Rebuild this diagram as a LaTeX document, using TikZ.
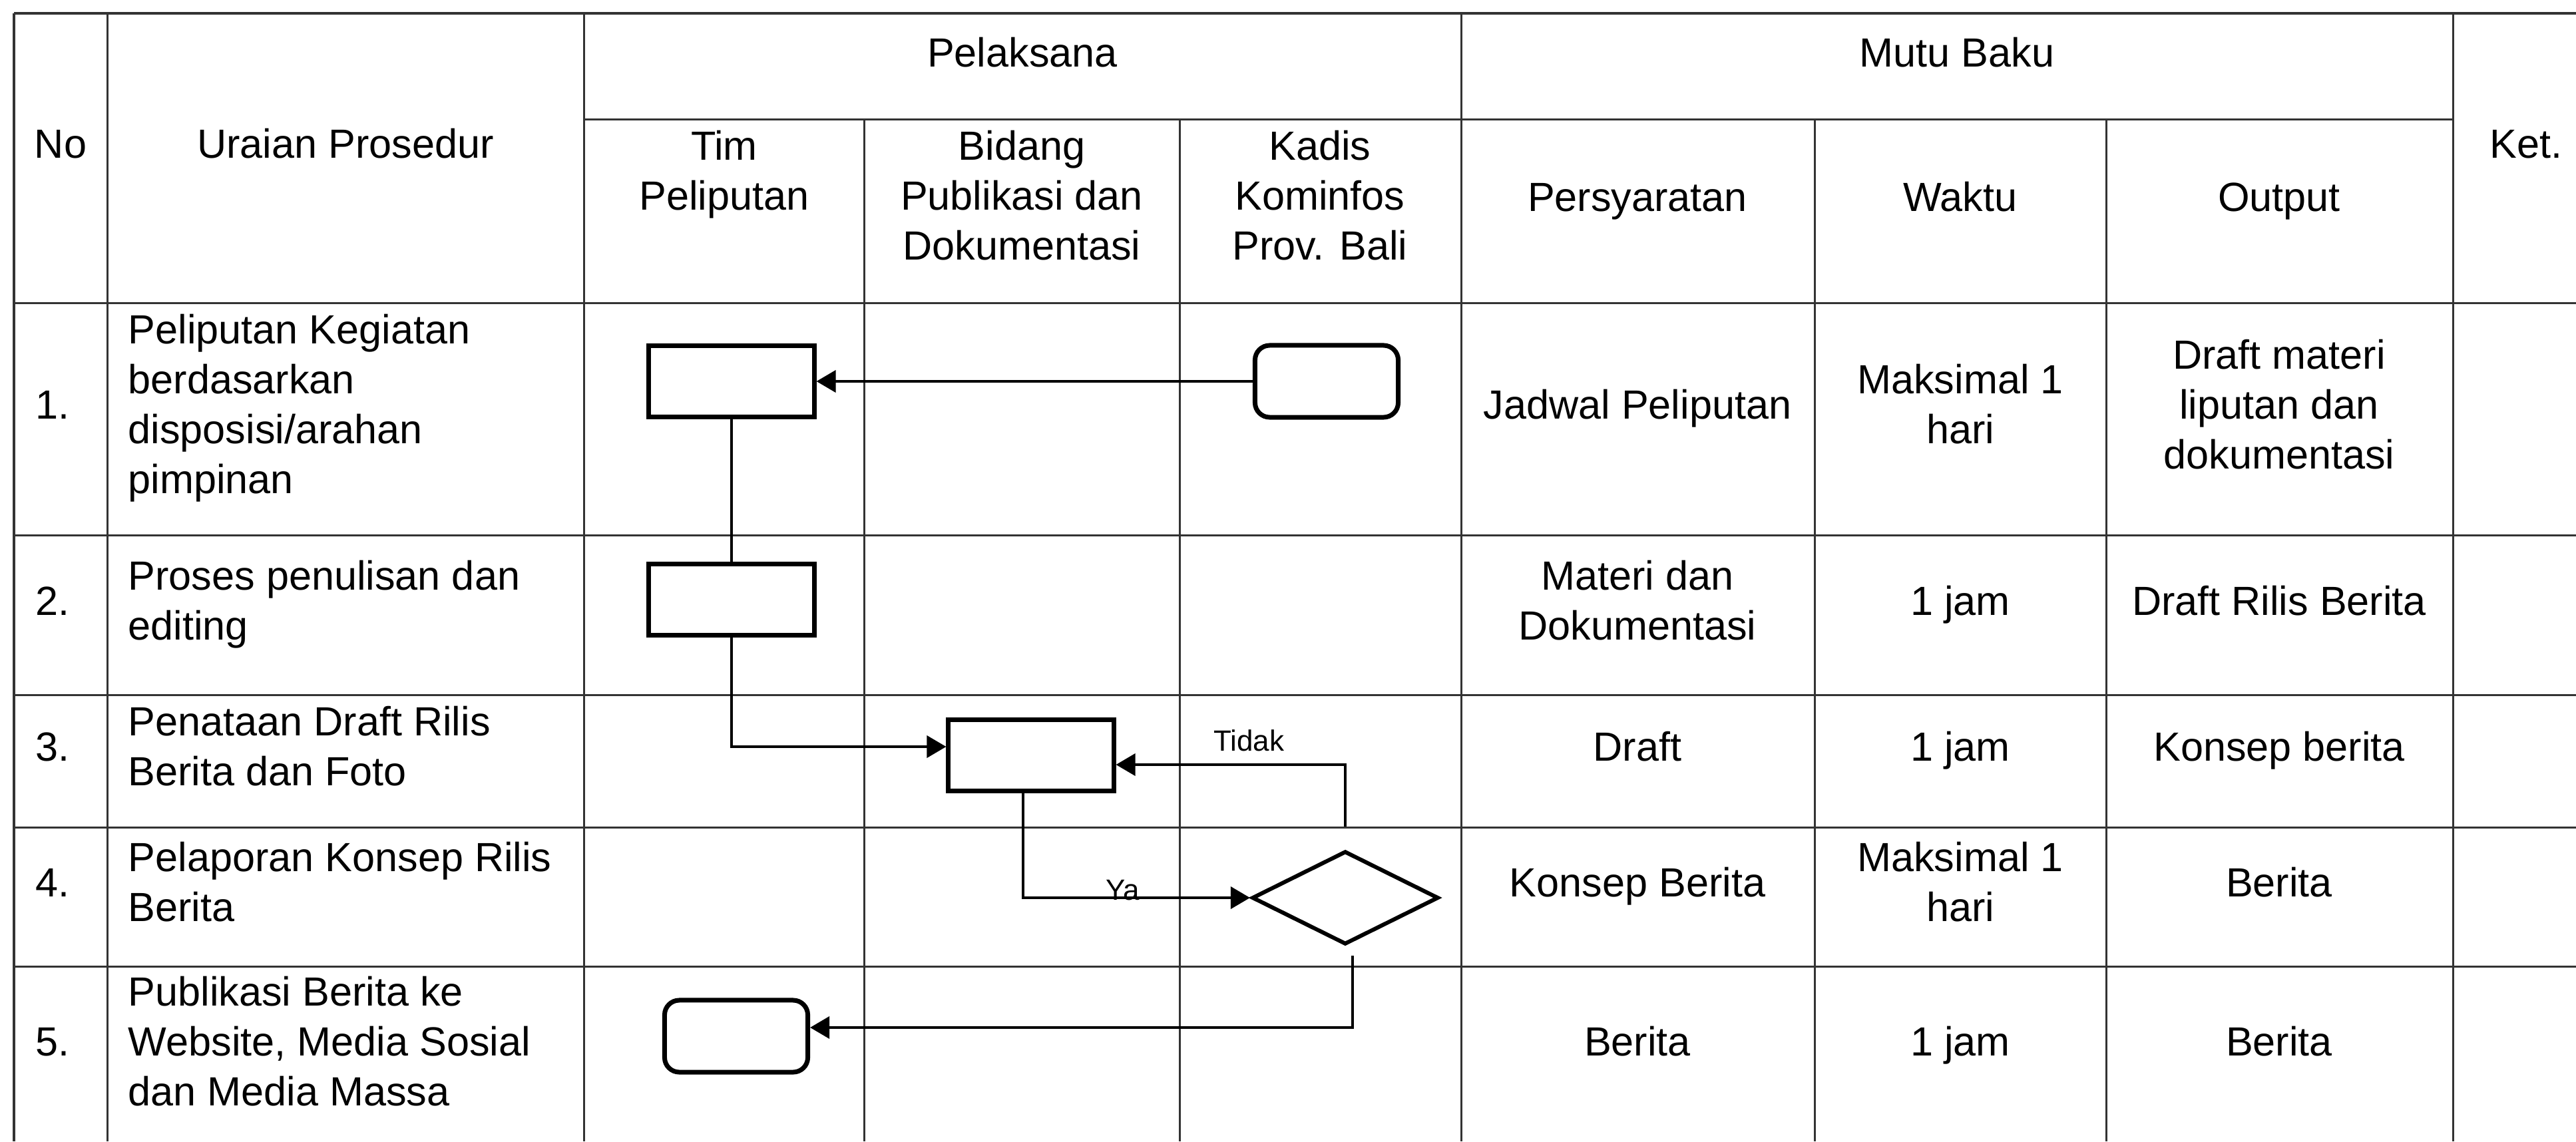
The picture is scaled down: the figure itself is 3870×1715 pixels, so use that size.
\documentclass[tikz,border=0pt]{standalone}
\usepackage{fontspec}
\setmainfont{Liberation Sans}
\usetikzlibrary{shapes.geometric, arrows.meta}

\begin{document}
\begin{tikzpicture}[x = 0.01cm, y = -0.01cm,
	every node/.style = {font = \fontsize{17.4}{21.3}\selectfont, inner sep = 0pt},
	grid/.style = {line width = 0.03cm, black!80},
	proc/.style = {draw = black, line width = 0.07cm, minimum width = 2.48cm, minimum height = 1.06cm},
	term/.style = {proc, rounded corners = 0.22cm, minimum width = 2.15cm, minimum height = 1.08cm},
	decide/.style = {draw = black, diamond, line width = 0.06cm, minimum width = 2.8cm, minimum height = 1.4cm},
	link/.style = {line width = 0.04cm},
	flow/.style = {link, -{Triangle[length = 0.29cm, width = 0.33cm]}},
	lbl/.style = {font = \fontsize{12.5}{15}\selectfont}]
			\useasboundingbox (0,0) rectangle (3870,1715);
			
			\draw [grid] (21,20)--(3870,20);
			\draw [grid] (877,179)--(3685,179);
			\draw [grid] (21,455)--(3870,455);
			\draw [grid] (21,804)--(3870,804);
			\draw [grid] (21,1044)--(3870,1044);
			\draw [grid] (21,1243)--(3870,1243);
			\draw [grid] (21,1452)--(3870,1452);
			\draw [grid] (21,20)--(21,1715);
			\draw [grid] (161,20)--(161,1715);
			\draw [grid] (877,20)--(877,1715);
			\draw [grid] (1298,179)--(1298,1715);
			\draw [grid] (1772,179)--(1772,1715);
			\draw [grid] (2195,20)--(2195,1715);
			\draw [grid] (2726,179)--(2726,1715);
			\draw [grid] (3164,179)--(3164,1715);
			\draw [grid] (3685,20)--(3685,1715);
			
			\node (no) [anchor = base] at (91,237){No};
			\node (uraian) [anchor = base] at (519,237){Uraian Prosedur};
			\node (pelaksana) [anchor = base] at (1536,100){Pelaksana};
			\node (mutu) [anchor = base] at (2940,100){Mutu Baku};
			\node (ket) [anchor = base] at (3795,237){Ket.};
			\node (tim) [anchor = base, align = center] at (1088,315){Tim\\Peliputan};
			\node (bidang) [anchor = base, align = center] at (1535,390){Bidang\\Publikasi dan\\Dokumentasi};
			\node (kadis) [anchor = base, align = center] at (1983,390){Kadis\\Kominfos\\Prov. Bali};
			\node (syarat) [anchor = base] at (2460,317){Persyaratan};
			\node (waktu) [anchor = base] at (2945,317){Waktu};
			\node (output) [anchor = base] at (3424,317){Output};
			
			\node (n1) [anchor = base west] at (53,629){1.};
			\node (u1) [anchor = base west, align = left] at (192,741){Peliputan Kegiatan\\berdasarkan\\disposisi/arahan\\pimpinan};
			\node (s1) [anchor = base] at (2460,629){Jadwal Peliputan};
			\node (w1) [anchor = base, align = center] at (2945,666){Maksimal 1\\hari};
			\node (o1) [anchor = base, align = center] at (3424,704){Draft materi\\liputan dan\\dokumentasi};
			
			\node (n2) [anchor = base west] at (53,924){2.};
			\node (u2) [anchor = base west, align = left] at (192,961){Proses penulisan dan\\editing};
			\node (s2) [anchor = base, align = center] at (2460,961){Materi dan\\Dokumentasi};
			\node (w2) [anchor = base] at (2945,924){1 jam};
			\node (o2) [anchor = base] at (3424,924){Draft Rilis Berita};
			
			\node (n3) [anchor = base west] at (53,1143){3.};
			\node (u3) [anchor = base west, align = left] at (192,1180){Penataan Draft Rilis\\Berita dan Foto};
			\node (s3) [anchor = base] at (2460,1143){Draft};
			\node (w3) [anchor = base] at (2945,1143){1 jam};
			\node (o3) [anchor = base] at (3424,1143){Konsep berita};
			
			\node (n4) [anchor = base west] at (53,1347){4.};
			\node (u4) [anchor = base west, align = left] at (192,1384){Pelaporan Konsep Rilis\\Berita};
			\node (s4) [anchor = base] at (2460,1347){Konsep Berita};
			\node (w4) [anchor = base, align = center] at (2945,1384){Maksimal 1\\hari};
			\node (o4) [anchor = base] at (3424,1347){Berita};
			
			\node (n5) [anchor = base west] at (53,1586){5.};
			\node (u5) [anchor = base west, align = left] at (192,1661){Publikasi Berita ke\\Website, Media Sosial\\dan Media Massa};
			\node (s5) [anchor = base] at (2460,1586){Berita};
			\node (w5) [anchor = base] at (2945,1586){1 jam};
			\node (o5) [anchor = base] at (3424,1586){Berita};
			
			\node (A) [term] at (1993,573){};
			\node (B) [proc] at (1099,573){};
			\node (C) [proc] at (1099,901){};
			\node (D) [proc] at (1549,1135){};
			\node (E) [decide] at (2021,1349){};
			\node (F) [term] at (1106,1557){};
			
			\draw [flow] (A)--(B);
			\draw [link] (B)--(C);
			\draw [flow] (C.south) |- ([yshift = 0.13cm]D.west);
			\draw [flow] ([xshift = -0.12cm]D.south) |- node[lbl, pos = 0.72, yshift = 0.11cm]{Ya} (E.west);
			\draw [flow, shorten <= 0.34cm] (E.north) |- node[lbl, pos = 0.71, yshift = 0.36cm]{Tidak} ([yshift = -0.14cm]D.east);
			\draw [flow, shorten <= 0.14cm] ([xshift = 0.11cm]E.south) |- ([yshift = 0.13cm]F.east);
			
		\end{tikzpicture}
\end{document}
